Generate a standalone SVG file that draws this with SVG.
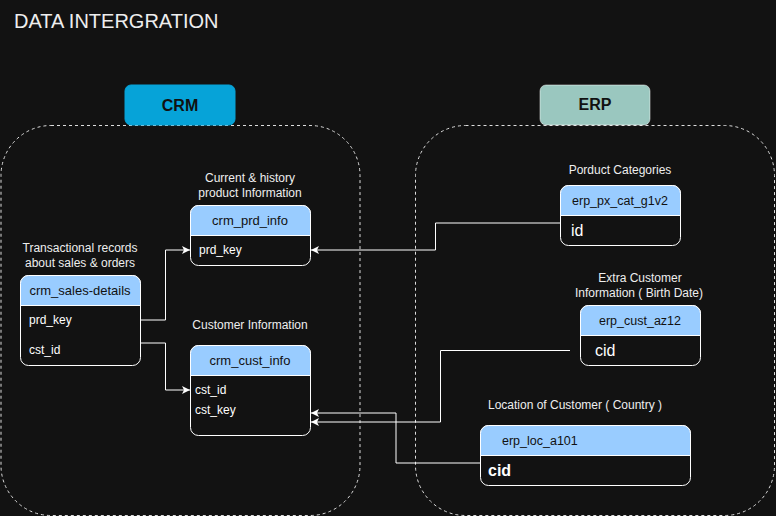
<svg xmlns="http://www.w3.org/2000/svg" width="776" height="516" viewBox="0 0 776 516">
<style>
  text { font-family: "Liberation Sans", Arial, sans-serif; }
  .title { font-size: 20px; fill: #eeeeee; }
  .lbl { font-size: 12px; fill: #eeeeee; text-anchor: middle; }
  .hdr { font-size: 13px; fill: #111111; text-anchor: middle; }
  .hdr2 { font-size: 12.5px; fill: #111111; text-anchor: middle; }
  .fld { font-size: 12px; fill: #ffffff; }
  .fldL { font-size: 16px; fill: #ffffff; }
  .cont { fill: none; stroke: #dddddd; stroke-width: 1; stroke-dasharray: 3 3; }
  .body { fill: #121212; stroke: #ffffff; stroke-width: 1; }
  .head { fill: #99ccff; stroke: #ffffff; stroke-width: 1; }
  .tag { font-size: 16px; font-weight: bold; fill: #111111; text-anchor: middle; }
  .edge { fill: none; stroke: #ffffff; stroke-width: 1; }
</style>
<defs>
  <marker id="arr" markerWidth="10" markerHeight="10" refX="8" refY="4" orient="auto" markerUnits="userSpaceOnUse">
    <path d="M0,0 L8,4 L0,8 L2,4 Z" fill="#ffffff"/>
  </marker>
</defs>
<rect x="0" y="0" width="776" height="516" fill="#121212"/>
<text class="title" x="14" y="28">DATA INTERGRATION</text>

<g id="crm-container">
  <rect class="cont" x="1" y="125.5" width="359" height="390" rx="50" ry="50"/>
  <rect x="125" y="85" width="110" height="40" rx="6" fill="#06a3d8" stroke="#06a3d8"/>
  <text class="tag" x="180" y="111">CRM</text>
</g>
<g id="erp-container">
  <rect class="cont" x="415.5" y="125.5" width="359" height="390" rx="50" ry="50"/>
  <rect x="540" y="85" width="110" height="40" rx="6" fill="#9ac7bf" stroke="#ffffff" stroke-width="0.5"/>
  <text class="tag" x="595" y="110">ERP</text>
</g>

<g id="crm_prd_info">
  <text class="lbl" x="250" y="182">Current &amp; history</text>
  <text class="lbl" x="250" y="197">product Information</text>
  <rect class="body" x="190.5" y="205.5" width="120" height="60" rx="8"/>
  <path class="head" d="M190.5,235.5 V213.5 A8,8 0 0 1 198.5,205.5 H302.5 A8,8 0 0 1 310.5,213.5 V235.5 Z"/>
  <text class="hdr" x="250" y="224.5">crm_prd_info</text>
  <text class="fld" x="199" y="254">prd_key</text>
</g>

<g id="crm_sales-details">
  <text class="lbl" x="80" y="252">Transactional records</text>
  <text class="lbl" x="80" y="267">about sales &amp; orders</text>
  <rect class="body" x="20.5" y="275.5" width="120" height="90" rx="8"/>
  <path class="head" d="M20.5,305.5 V283.5 A8,8 0 0 1 28.5,275.5 H132.5 A8,8 0 0 1 140.5,283.5 V305.5 Z"/>
  <text class="hdr" x="80" y="295">crm_sales-details</text>
  <text class="fld" x="29" y="324">prd_key</text>
  <text class="fld" x="29" y="354">cst_id</text>
</g>

<g id="crm_cust_info">
  <text class="lbl" x="250" y="329">Customer Information</text>
  <rect class="body" x="190.5" y="345.5" width="120" height="90" rx="8"/>
  <path class="head" d="M190.5,375.5 V353.5 A8,8 0 0 1 198.5,345.5 H302.5 A8,8 0 0 1 310.5,353.5 V375.5 Z"/>
  <text class="hdr" x="250" y="364.5">crm_cust_info</text>
  <text class="fld" x="195" y="394">cst_id</text>
  <text class="fld" x="195" y="414">cst_key</text>
</g>

<g id="erp_px_cat_g1v2">
  <text class="lbl" x="620" y="174">Porduct Categories</text>
  <rect class="body" x="560.5" y="185.5" width="120" height="60" rx="8"/>
  <path class="head" d="M560.5,215.5 V193.5 A8,8 0 0 1 568.5,185.5 H672.5 A8,8 0 0 1 680.5,193.5 V215.5 Z"/>
  <text class="hdr2" x="620" y="204.5">erp_px_cat_g1v2</text>
  <text class="fldL" x="571" y="236">id</text>
</g>

<g id="erp_cust_az12">
  <text class="lbl" x="640" y="282">Extra Customer</text>
  <text class="lbl" x="639" y="297">Information ( Birth Date)</text>
  <rect class="body" x="580.5" y="305.5" width="120" height="60" rx="8"/>
  <path class="head" d="M580.5,335.5 V313.5 A8,8 0 0 1 588.5,305.5 H692.5 A8,8 0 0 1 700.5,313.5 V335.5 Z"/>
  <text class="hdr2" x="640" y="324.5">erp_cust_az12</text>
  <text class="fldL" x="595" y="356">cid</text>
</g>

<g id="erp_loc_a101">
  <text class="lbl" x="575" y="409">Location of Customer ( Country )</text>
  <rect class="body" x="480.5" y="425.5" width="210" height="60" rx="8"/>
  <path class="head" d="M480.5,455.5 V433.5 A8,8 0 0 1 488.5,425.5 H682.5 A8,8 0 0 1 690.5,433.5 V455.5 Z"/>
  <text class="hdr2" x="502" y="444.5" style="text-anchor:start">erp_loc_a101</text>
  <text class="fldL" x="488" y="476" font-weight="bold">cid</text>
</g>

<g id="connectors">
  <path class="edge" d="M140,320 H165.5 V250 H190" marker-end="url(#arr)"/>
  <path class="edge" d="M140,343 H165.5 V390 H190" marker-end="url(#arr)"/>
  <path class="edge" d="M560,223 H435.5 V250 H311" marker-end="url(#arr)"/>
  <path class="edge" d="M570,350.5 H440.5 V422 H311" marker-end="url(#arr)"/>
  <path class="edge" d="M480,463 H396 V413 H311" marker-end="url(#arr)"/>
</g>
</svg>
